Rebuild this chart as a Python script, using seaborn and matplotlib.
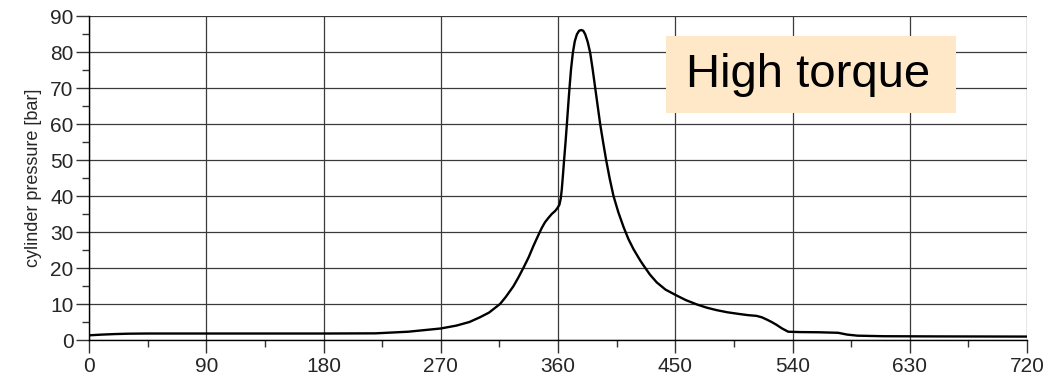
import matplotlib
matplotlib.use("Agg")
import matplotlib.pyplot as plt
import seaborn as sns
import pandas as pd
from matplotlib.patches import Rectangle
from matplotlib.ticker import MultipleLocator

crank_angle = [0, 10, 20, 30, 45, 90, 135, 180, 220, 245, 270, 282, 292, 300, 307, 315.5, 320,
               325.7, 329.5, 333.4, 337.5, 341.1, 344.5, 347.5, 350, 352.6, 355.2, 357.7,
               359.5, 361.1, 362.1, 362.9, 363.8, 364.7, 365.8, 366.8, 367.8, 368.8, 370,
               371.4, 372.9, 374.5, 376.2, 377.8, 379.4, 380.9, 382.8, 384.7, 386.6, 388.6,
               390.5, 392.4, 394.7, 397.0, 399.7, 402.6, 406.3, 410.3, 414.1, 418.0, 423.1,
               425.5, 430.5, 435.8, 442.5, 450.3, 458, 466.4, 474, 481.7, 490, 499.6, 506,
               512.4, 516.5, 520.1, 524, 527.8, 532, 536.7, 545.7, 560, 575, 582, 590, 610,
               650, 720]
pressure = [1.3, 1.5, 1.65, 1.75, 1.8, 1.8, 1.8, 1.8, 1.85, 2.3, 3.2, 4.0, 5.0, 6.3, 7.6, 10.0,
            12.0, 14.9, 17.3, 20.0, 23.0, 26.1, 28.8, 31.1, 32.7, 33.9, 35.0, 35.8,
            36.6, 37.6, 39.3, 41.8, 45.8, 50.1, 55.0, 59.9, 65.0, 69.9, 75.2,
            79.8, 83.0, 84.9, 85.9, 86.1, 85.9, 84.9, 82.8, 79.8, 75.2, 69.9,
            64.9, 59.9, 54.8, 49.9, 44.8, 40.0, 35.5, 31.4, 28.0, 25.2, 22.1,
            20.8, 18.2, 16.0, 14.0, 12.5, 11.1, 9.9, 9.0, 8.3, 7.7, 7.2, 6.9,
            6.7, 6.3, 5.7, 5.0, 4.2, 3.2, 2.3, 2.2, 2.15, 2.0, 1.5, 1.2, 1.05,
            1.0, 0.95]

x_ticks = [0, 90, 180, 270, 360, 450, 540, 630, 720]
y_ticks = [0, 10, 20, 30, 40, 50, 60, 70, 80, 90]
y_label = "cylinder pressure [bar]"
note = "High torque"

sns.set_theme(style="white")
plt.rcParams['font.family'] = ['Liberation Sans', 'DejaVu Sans']

fig = plt.figure(figsize=(10.49, 3.82), dpi=100)
ax = fig.add_axes([89/1049, 1-340/382, 938/1049, 324/382])

df = pd.DataFrame({"angle": crank_angle, "p": pressure})
sns.lineplot(data=df, x="angle", y="p", ax=ax, color="black", linewidth=1.7, zorder=3)

ax.set_xlim(0, 720)
ax.set_ylim(0, 90)
ax.set_xticks(x_ticks)
ax.set_yticks(y_ticks)
ax.xaxis.set_minor_locator(MultipleLocator(45))
ax.yaxis.set_minor_locator(MultipleLocator(5))
ax.grid(True, which="major", color="#3a3a3a", linewidth=0.9)
ax.set_axisbelow(True)
for s in ax.spines.values():
    s.set_visible(False)
ax.spines['left'].set_visible(True)
ax.spines['bottom'].set_visible(True)
ax.spines['left'].set_color('black')
ax.spines['bottom'].set_color('black')
ax.spines['left'].set_linewidth(1.0)
ax.spines['bottom'].set_linewidth(1.0)

ax.tick_params(axis='both', which='major', direction='out', length=9.5, width=1.0,
               color='#333333', labelsize=15, pad=1.5, left=True, bottom=True)
ax.tick_params(axis='both', which='minor', direction='out', length=5, width=1.0,
               color='#333333', left=True, bottom=True)
ax.tick_params(axis='x', which='major', pad=3)

ax.set_xlabel("")
ax.set_ylabel(y_label, fontsize=13, labelpad=6)

ax.add_patch(Rectangle(((666-89)/938, 1-(113-16)/324), (956-666)/938, (113-36)/324,
                       transform=ax.transAxes, facecolor="#FFE8C8", edgecolor="none", zorder=4))
ax.text((808-89)/938, 1-(75-16)/324, note, transform=ax.transAxes, fontsize=34,
        ha="center", va="center", color="black", zorder=5)

fig.savefig("out.png", dpi=100)
